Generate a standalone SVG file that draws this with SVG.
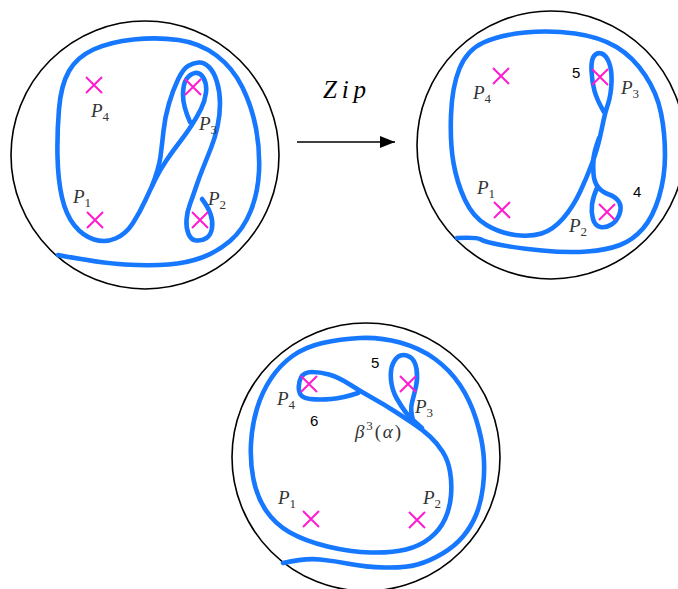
<svg xmlns="http://www.w3.org/2000/svg" width="678" height="589" viewBox="0 0 678 589">
<defs>
<style>
.disk{fill:none;stroke:#000;stroke-width:1.6}
.curve{fill:none;stroke:#1677ff;stroke-width:4.6;stroke-linecap:round;stroke-linejoin:round}
.x{stroke:#ff1ad1;stroke-width:2;fill:none}
.P{font-family:"Liberation Serif","DejaVu Serif",serif;font-style:italic;font-size:19px;fill:#333}
.sub{font-family:"Liberation Serif","DejaVu Serif",serif;font-style:normal;font-size:13px;fill:#333}
.num{font-family:"Liberation Sans",Arial,sans-serif;font-size:15px;fill:#000}
</style>
<marker id="ah" viewBox="0 0 10 10" refX="10" refY="5" markerWidth="15" markerHeight="12" markerUnits="userSpaceOnUse" orient="auto" preserveAspectRatio="none"><path d="M0,0 L10,5 L0,10 z" fill="#000"/></marker>
</defs>

<g id="panel-left">
<circle class="disk" cx="145" cy="155" r="134"/>
<path class="curve" d="M190,122 Q183,106 183,95 Q183,84 186.5,79 Q190,74 195,73 Q200,72 203.5,78 Q207,84 206,92.5 Q205,101 201,109 Q197,117 191.5,125.5 Q186,134 179,143 Q172,152 166,161 Q160,170 155.5,179 Q151,188 145.5,200 Q140,212 133,223 Q126,234 115.5,238.5 Q105,243 94,239.5 Q83,236 74.5,225.5 Q66,215 62,197.5 Q58,180 57.5,156.5 Q57,133 59,109 Q61,85 69,71 Q77,57 93.5,49.5 Q110,42 133.5,39.5 Q157,37 178.5,40 Q200,43 216.5,55.5 Q233,68 242.5,87.5 Q252,107 256,128.5 Q260,150 259,171.5 Q258,193 250.5,211.5 Q243,230 230,241 Q217,252 202,257.5 Q187,263 168.5,264.5 Q150,266 125,264.5 Q100,263 58,255"/>
<path class="curve" d="M202,199 Q208,207 210.5,214 Q213,221 212,228 Q211,235 206.5,238 Q202,241 196.5,240.5 Q191,240 188.5,234 Q186,228 186.5,220 Q187,212 190,204 Q193,196 196,187 Q199,178 203,168 Q207,158 211,148 Q215,138 217.5,126.5 Q220,115 220,103.5 Q220,92 217,82 Q214,72 209,67 Q204,62 198.5,62.5 Q193,63 188,66 Q183,69 178,79.5 Q173,90 169,103.5 Q165,117 163.5,131 Q162,145 160.5,156.5 Q159,168 152,186"/>
<path class="x" d="M86,77 L102,93 M102,77 L86,93"/>
<path class="x" d="M185,79 L201,95 M201,79 L185,95"/>
<path class="x" d="M87,212 L103,228 M103,212 L87,228"/>
<path class="x" d="M192,212 L208,228 M208,212 L192,228"/>
<text class="P" x="91" y="117">P<tspan class="sub" dy="4">4</tspan></text>
<text class="P" x="199" y="130">P<tspan class="sub" dy="4">3</tspan></text>
<text class="P" x="73" y="203">P<tspan class="sub" dy="4">1</tspan></text>
<text class="P" x="208" y="205">P<tspan class="sub" dy="4">2</tspan></text>
</g>

<g id="connectors">
<line x1="297" y1="142" x2="395" y2="142" stroke="#000" stroke-width="1.6" marker-end="url(#ah)"/>
<text x="323" y="98" font-family="'Liberation Serif','DejaVu Serif',serif" font-style="italic" font-size="25" fill="#000" textLength="43" lengthAdjust="spacing">Zip</text>
</g>

<g id="panel-right">
<circle class="disk" cx="551" cy="145" r="134"/>
<path class="curve" d="M457,238 Q477,237 481,239.5 Q485,242 501,245 Q517,248 542,250.5 Q567,253 587,251.5 Q607,250 620,245 Q633,240 643,228.5 Q653,217 659,197 Q665,177 665,155 Q665,133 661,113 Q657,93 645,75 Q633,57 616.5,47 Q600,37 575,33.5 Q550,30 525,32.5 Q500,35 483.5,42.5 Q467,50 459.5,68.5 Q452,87 451,115 Q450,143 453.5,163 Q457,183 465,200 Q473,217 486.5,225 Q500,233 515,235 Q530,237 541.5,233.5 Q553,230 563,218.5 Q573,207 580,192 Q587,177 592,163.5 Q597,150 599.5,139 Q602,128 603.5,120.5 Q605,113 608,104 Q611,95 611.5,82.5 Q612,70 609,62.5 Q606,55 601.5,53.5 Q597,52 594,56 Q591,60 591.5,71 Q592,82 594.5,91 Q597,100 604,112"/>
<path class="curve" d="M599,138 Q594,152 593.5,158.5 Q593,165 593.5,173.5 Q594,182 598,187 Q602,192 609,194.5 Q616,197 619,202 Q622,207 619.5,214 Q617,221 611.5,224.5 Q606,228 600.5,227 Q595,226 593,219 Q591,212 592,204.5 Q593,197 597,188"/>
<path class="x" d="M493,68 L509,84 M509,68 L493,84"/>
<path class="x" d="M592,69 L608,85 M608,69 L592,85"/>
<path class="x" d="M494,202 L510,218 M510,202 L494,218"/>
<path class="x" d="M599,204 L615,220 M615,204 L599,220"/>
<text class="P" x="473" y="99">P<tspan class="sub" dy="4">4</tspan></text>
<text class="P" x="621" y="94">P<tspan class="sub" dy="4">3</tspan></text>
<text class="P" x="477" y="194">P<tspan class="sub" dy="4">1</tspan></text>
<text class="P" x="569" y="232">P<tspan class="sub" dy="4">2</tspan></text>
<text class="num" x="572" y="78">5</text>
<text class="num" x="633" y="197">4</text>
</g>

<g id="panel-bottom">
<circle class="disk" cx="366" cy="457" r="134"/>
<path class="curve" d="M283,563 Q305,558 320,559.5 Q335,561 350,564 Q365,567 385,567.5 Q405,568 417.5,564.5 Q430,561 442.5,553.5 Q455,546 463,536.5 Q471,527 476,515 Q481,503 483,486.5 Q485,470 483.5,454 Q482,438 476,419 Q470,400 460,385 Q450,370 435,359 Q420,348 400,342.5 Q380,337 360,338 Q340,339 322.5,343 Q305,347 292.5,356 Q280,365 271,378.5 Q262,392 257,408.5 Q252,425 251,443.5 Q250,462 253.5,479.5 Q257,497 266,510.5 Q275,524 290,532.5 Q305,541 327.5,546.5 Q350,552 371,552.5 Q392,553 406,549.5 Q420,546 430,538 Q440,530 445,519 Q450,508 451,495.5 Q452,483 450,471.5 Q448,460 442.5,451.5 Q437,443 430,436.5 Q423,430 414,424 Q405,418 395,411.5 Q385,405 372.5,398 Q360,391 349,384 Q338,377 329,374.5 Q320,372 312,372 Q304,372 301,377.5 Q298,383 299,390.5 Q300,398 310,399 Q320,400 331.5,399 Q343,398 358,393"/>
<path class="curve" d="M422,428 Q410,418 405.5,412 Q401,406 396.5,398 Q392,390 391,380 Q390,370 393,363.5 Q396,357 400.5,355.5 Q405,354 410,357 Q415,360 416.5,369 Q418,378 416,386.5 Q414,395 412,402.5 Q410,410 413,420"/>
<path class="x" d="M301,376 L317,392 M317,376 L301,392"/>
<path class="x" d="M400,376 L416,392 M416,376 L400,392"/>
<path class="x" d="M303,511 L319,527 M319,511 L303,527"/>
<path class="x" d="M409,512 L425,528 M425,512 L409,528"/>
<text class="P" x="277" y="405">P<tspan class="sub" dy="4">4</tspan></text>
<text class="P" x="415" y="413">P<tspan class="sub" dy="4">3</tspan></text>
<text class="P" x="278" y="504">P<tspan class="sub" dy="4">1</tspan></text>
<text class="P" x="423" y="504" font-size="21">P<tspan class="sub" dy="4" font-size="14">2</tspan></text>
<text class="num" x="371" y="368">5</text>
<text class="num" x="310" y="426">6</text>
<text class="P" x="355" y="438" font-size="21" textLength="46" lengthAdjust="spacing">β<tspan class="sub" dy="-8">3</tspan><tspan dy="8" font-style="normal">(</tspan>α<tspan font-style="normal">)</tspan></text>
</g>
</svg>
